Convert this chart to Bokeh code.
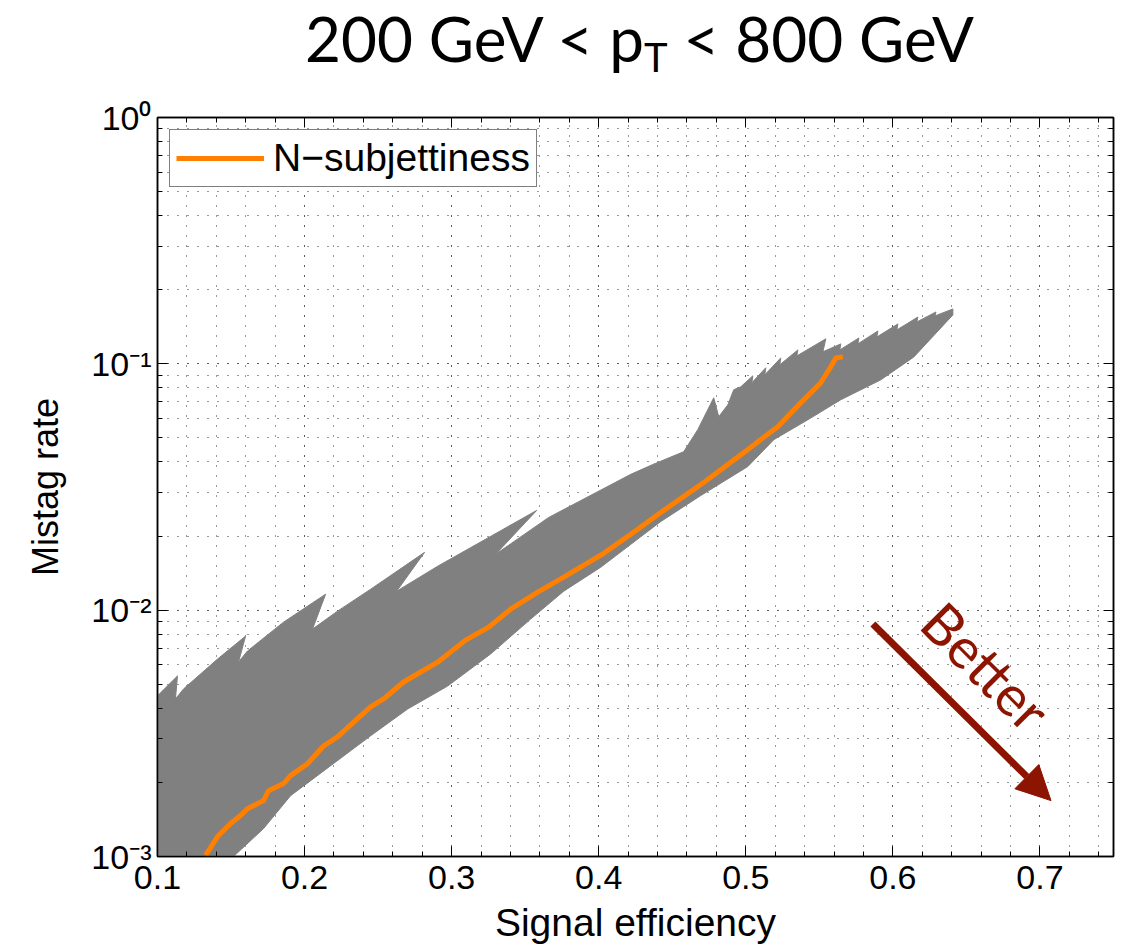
import html
import numpy as np
from bokeh.plotting import figure
from bokeh.layouts import column
from bokeh.models import (Range1d, FixedTicker, LinearAxis, LogAxis, Label,
                          Arrow, NormalHead, Div)
from bokeh.embed import file_html
from bokeh.resources import INLINE

# ---------------- data ----------------
x_ticks = [0.1, 0.2, 0.3, 0.4, 0.5, 0.6, 0.7]
x_tick_labels = ["0.1", "0.2", "0.3", "0.4", "0.5", "0.6", "0.7"]
x_minor_ticks = [round(0.1 + 0.02 * i, 2) for i in range(33)]

y_ticks = [0.001, 0.01, 0.1, 1.0]
y_tick_labels = ["10\u207b\u00b3", "10\u207b\u00b2", "10\u207b\u00b9", "10\u2070"]
y_minor_ticks = [k * 10.0 ** e for e in (-3, -2, -1) for k in range(1, 10)]

# N-subjettiness ROC curve
nsub_eff = [0.1327, 0.1408, 0.1497, 0.1565, 0.1612, 0.1721, 0.1755, 0.1857,
            0.1905, 0.2020, 0.2129, 0.2224, 0.2313, 0.2449, 0.2537, 0.2673,
            0.2905, 0.3095, 0.3252, 0.3401, 0.3585, 0.3762, 0.4034, 0.4218,
            0.4422, 0.4714, 0.5014, 0.5218, 0.5374, 0.5510, 0.5578, 0.5612,
            0.5660]
nsub_mistag = [0.00101, 0.001205, 0.001361, 0.001466, 0.001564, 0.001686,
               0.00185, 0.001977, 0.00213, 0.00238, 0.00281, 0.00306,
               0.00342, 0.00405, 0.00436, 0.00511, 0.00615, 0.00756,
               0.00853, 0.01009, 0.01183, 0.01361, 0.01702, 0.02032,
               0.02493, 0.0330, 0.0449, 0.0556, 0.0695, 0.0838, 0.0973,
               0.1057, 0.1067]

# envelope of the grey band (other taggers), upper edge left -> right
band_upper_eff = [0.1000, 0.1000, 0.1136, 0.1122, 0.1177, 0.1408, 0.1599,
                  0.1551, 0.1612, 0.1857, 0.2143, 0.2054, 0.2224, 0.2449,
                  0.2816, 0.2626, 0.2905, 0.3578, 0.3299, 0.3660, 0.4218,
                  0.4367, 0.4578, 0.4673, 0.4782, 0.4816, 0.4878, 0.4918,
                  0.4966, 0.5048, 0.5041, 0.5136, 0.5129, 0.5238, 0.5231,
                  0.5354, 0.5347, 0.5544, 0.5524, 0.5646, 0.5639, 0.5769,
                  0.5762, 0.5898, 0.5891, 0.6034, 0.6027, 0.6170, 0.6163,
                  0.6293, 0.6286, 0.6408]
band_upper_mistag = [0.00100, 0.00449, 0.00541, 0.00436, 0.00479, 0.00633,
                     0.00785, 0.00616, 0.00683, 0.00894, 0.01161, 0.00838,
                     0.00991, 0.01216, 0.01717, 0.01194, 0.01508, 0.0254,
                     0.01686, 0.0238, 0.0356, 0.0390, 0.0440, 0.0540,
                     0.0728, 0.0610, 0.0682, 0.0785, 0.0807, 0.0894, 0.0838,
                     0.0964, 0.0902, 0.1057, 0.0991, 0.1139, 0.1077, 0.1263,
                     0.1119, 0.1205, 0.1139, 0.1274, 0.1205, 0.1360, 0.1286,
                     0.1452, 0.1373, 0.1549, 0.1479, 0.1624, 0.1565, 0.1670]
# lower edge left -> right
band_lower_eff = [0.1517, 0.1721, 0.1905, 0.2177, 0.2449, 0.2701, 0.2973,
                  0.3265, 0.3537, 0.3762, 0.4014, 0.4218, 0.4422, 0.4694,
                  0.5014, 0.5190, 0.5422, 0.5646, 0.5918, 0.6143, 0.6408]
band_lower_mistag = [0.00100, 0.001298, 0.001766, 0.002336, 0.00309, 0.00397,
                     0.00492, 0.00664, 0.00920, 0.01194, 0.01494, 0.0185,
                     0.0229, 0.0292, 0.0383, 0.0492, 0.0593, 0.0715, 0.0861,
                     0.1067, 0.158]

legend_text = "N\u2212subjettiness"
better_text = "Better"
title_parts = ["200 GeV < p", "T", " < 800 GeV"]

# ---------------- styles ----------------
FONT = "Liberation Sans"
TITLE_FONT = "Lato"
DARK_RED = "#8c1400"
TITLE_H = 82

# ---------------- title (real HTML text, subscript T) ----------------
title_html = (
    '<div style="font-family:Lato, sans-serif; font-size:62px; '
    'line-height:62px; color:#000; white-space:nowrap; padding-top:7px; '
    'margin-left:305px;">'
    + html.escape(title_parts[0])
    + '<span style="font-size:40px; position:relative; top:10px;">'
    + html.escape(title_parts[1]) + '</span>'
    + html.escape(title_parts[2]).replace(" ", "&nbsp;", 1)
    + '</div>')
title_div = Div(text=title_html, width=1129, height=TITLE_H,
                margin=(0, 0, 0, 0))

# ---------------- main figure ----------------
p = figure(width=1129, height=947 - TITLE_H,
           x_range=Range1d(0.1, 0.75), y_range=Range1d(0.001, 1.0),
           y_axis_type="log", output_backend="svg", toolbar_location=None,
           min_border_left=157, min_border_right=16,
           min_border_top=117 - TITLE_H, min_border_bottom=91)
p.background_fill_color = "white"
p.border_fill_color = "white"
p.outline_line_color = "black"
p.outline_line_width = 1.5

bottom_axis = p.below[0]
left_axis = p.left[0]

xt = FixedTicker(ticks=x_ticks, minor_ticks=x_minor_ticks)
yt = FixedTicker(ticks=y_ticks, minor_ticks=y_minor_ticks)
bottom_axis.ticker = xt
left_axis.ticker = yt
p.xgrid.ticker = xt
p.ygrid.ticker = yt
bottom_axis.major_label_overrides = dict(zip(x_ticks, x_tick_labels))
left_axis.major_label_overrides = dict(zip(y_ticks, y_tick_labels))

for g in (p.xgrid, p.ygrid):
    g.grid_line_color = "black"
    g.grid_line_dash = "1 9"
    g.grid_line_alpha = 0.8
    g.minor_grid_line_color = "black"
    g.minor_grid_line_dash = "1 9"
    g.minor_grid_line_alpha = 0.8

top_axis = LinearAxis(ticker=xt,
                      major_label_overrides={t: "" for t in x_ticks})
right_axis = LogAxis(ticker=yt,
                     major_label_overrides={t: "" for t in y_ticks})
p.add_layout(top_axis, "above")
p.add_layout(right_axis, "right")

for ax in (bottom_axis, left_axis, top_axis, right_axis):
    ax.axis_line_color = "black"
    ax.axis_line_width = 1.5
    ax.major_tick_in = 10
    ax.major_tick_out = 0
    ax.minor_tick_in = 5
    ax.minor_tick_out = 0
    ax.major_tick_line_color = "black"
    ax.minor_tick_line_color = "black"
    ax.major_label_text_font = FONT
    ax.major_label_text_font_size = "34px"
    ax.major_label_text_color = "black"
    ax.axis_label_text_font = FONT
    ax.axis_label_text_font_style = "normal"
    ax.axis_label_text_font_size = "39px"
    ax.axis_label_text_color = "black"
for ax in (top_axis, right_axis):
    ax.major_label_standoff = 0
    ax.major_label_text_font_size = "10px"

bottom_axis.axis_label = "Signal efficiency"
bottom_axis.major_label_standoff = 9
bottom_axis.axis_label_standoff = 9
left_axis.axis_label = "Mistag rate"
left_axis.axis_label_text_font_size = "36px"
left_axis.major_label_standoff = 6
left_axis.axis_label_standoff = 22

# grey band
band_x = band_upper_eff + band_lower_eff[::-1]
band_y = band_upper_mistag + band_lower_mistag[::-1]
p.patch(band_x, band_y, fill_color="#808080", line_color="#808080",
        line_width=1)

# N-subjettiness curve
p.line(nsub_eff, nsub_mistag, line_color="#ff8000", line_width=5,
       line_join="round", legend_label=legend_text)

lg = p.legend[0]
lg.location = "top_left"
lg.margin = 12
lg.padding = 6
lg.spacing = 0
lg.glyph_width = 88
lg.glyph_height = 30
lg.label_standoff = 9
lg.label_text_font = FONT
lg.label_text_font_size = "39px"
lg.label_text_color = "black"
lg.border_line_color = "black"
lg.border_line_width = 1.5
lg.background_fill_color = "white"
lg.background_fill_alpha = 1.0

# "Better" arrow
arrow_start = (0.5864, 0.00878)
arrow_end = (0.7075, 0.001686)
p.add_layout(Arrow(end=NormalHead(size=34, fill_color=DARK_RED,
                                  line_color=DARK_RED),
                   x_start=arrow_start[0], y_start=arrow_start[1],
                   x_end=arrow_end[0], y_end=arrow_end[1],
                   line_color=DARK_RED, line_width=7))
p.add_layout(Label(x=0.6635, y=0.00593, text=better_text, angle=-0.7854,
                   text_align="center", text_baseline="middle",
                   text_font=TITLE_FONT, text_font_size="56px",
                   text_color=DARK_RED))

layout = column(title_div, p, spacing=0)
open("out.html", "w").write(file_html(layout, INLINE))
